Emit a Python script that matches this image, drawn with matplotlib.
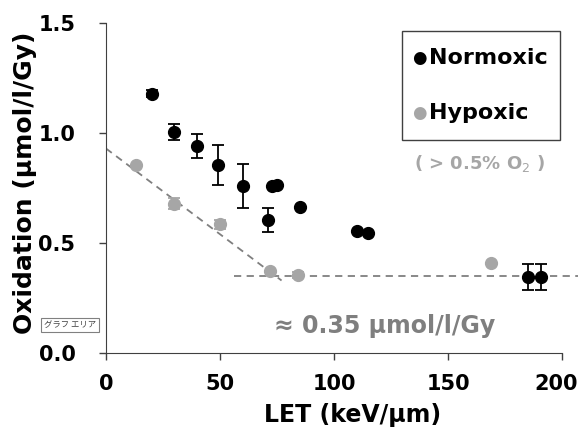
import matplotlib.pyplot as plt
import matplotlib.transforms as mtransforms

# Normoxic data (LET keV/um, oxidation umol/l/Gy, error)
norm_let = [20, 30, 40, 49, 60, 71, 73, 75, 85, 110, 115, 185, 191]
norm_ox = [1.18, 1.005, 0.94, 0.855, 0.76, 0.605, 0.76, 0.765, 0.665, 0.555, 0.545, 0.345, 0.345]
norm_err = [0.015, 0.035, 0.055, 0.09, 0.1, 0.055, 0, 0, 0, 0, 0, 0.06, 0.06]

# Hypoxic data
hyp_let = [13, 30, 50, 72, 84, 169]
hyp_ox = [0.855, 0.68, 0.585, 0.375, 0.355, 0.41]
hyp_err = [0, 0.025, 0.02, 0, 0.015, 0]

# guide lines
slope_x = [0, 77]
slope_y = [0.93, 0.33]
plateau_x = [56, 207]
plateau_y = [0.35, 0.35]

grey = "#a6a6a6"
line_grey = "#7f7f7f"

fig = plt.figure(figsize=(5.82, 4.28), dpi=100)
ax = fig.add_axes([106 / 582, 0.175, 456 / 582, 0.771])

ax.plot(slope_x, slope_y, "--", color=line_grey, lw=1.3, dashes=(4, 3), zorder=1)
ax.plot(plateau_x, plateau_y, "--", color=line_grey, lw=1.3, dashes=(4, 3), zorder=1, clip_on=False)

ax.errorbar(hyp_let, hyp_ox, yerr=hyp_err, fmt="o", color=grey, ms=8.5,
            ecolor=grey, elinewidth=1.3, capsize=4, capthick=1.3, zorder=2)
ax.errorbar(norm_let, norm_ox, yerr=norm_err, fmt="o", color="black", ms=8.5,
            ecolor="black", elinewidth=1.3, capsize=4, capthick=1.3, zorder=3)

ax.set_xlim(0, 200)
ax.set_ylim(0, 1.5)
ax.set_xticks([0, 50, 100, 150, 200])
ax.set_yticks([0, 0.5, 1.0, 1.5])
ax.set_yticklabels(["0.0", "0.5", "1.0", "1.5"])
ax.spines["top"].set_visible(False)
ax.spines["right"].set_visible(False)
ax.spines["left"].set_color("#404040")
ax.spines["bottom"].set_color("#404040")
ax.tick_params(direction="out", length=5, width=1, color="#404040", labelsize=15)
ax.tick_params(axis="x", pad=10)
ax.tick_params(axis="y", pad=17)
for lab in ax.get_xticklabels() + ax.get_yticklabels():
    lab.set_fontweight("bold")
# last x label sits a little left of its tick, as in the original
last = ax.xaxis.get_major_ticks()[-1].label1
last.set_transform(last.get_transform() + mtransforms.ScaledTranslation(-4 / 72, 0, fig.dpi_scale_trans))

ax.set_xlabel("LET (keV/μm)", fontsize=17, fontweight="bold")
ax.set_ylabel("Oxidation (μmol/l/Gy)", fontsize=18, fontweight="bold")
ax.xaxis.set_label_coords(0.54, -0.152)
ax.yaxis.set_label_coords(-0.151, 0.515)

# legend box drawn by hand
box = plt.Rectangle((402 / 582, 1 - 140 / 428), 158 / 582, 109 / 428,
                    transform=fig.transFigure, fill=False, ec="#404040", lw=1)
fig.patches.append(box)
fig.text(419 / 582, 1 - 58 / 428, "●", color="black", fontsize=12, va="center", ha="center")
fig.text(429 / 582, 1 - 58 / 428, "Normoxic", color="black", fontsize=16, fontweight="bold", va="center")
fig.text(419 / 582, 1 - 113 / 428, "●", color=grey, fontsize=12, va="center", ha="center")
fig.text(429 / 582, 1 - 113 / 428, "Hypoxic", color="black", fontsize=16, fontweight="bold", va="center")
fig.text(480 / 582, 1 - 163 / 428, "( > 0.5% O$_2$ )", color=grey, fontsize=13, fontweight="bold",
         va="center", ha="center")

ax.text(122, 0.125, "≈ 0.35 μmol/l/Gy", color=line_grey, fontsize=17, fontweight="bold",
        ha="center", va="center")

fig.text(70 / 582, 1 - 325 / 428, "グラフ エリア", fontsize=6, color="#404040",
         family=["Noto Sans CJK JP", "DejaVu Sans"], ha="center", va="center",
         bbox=dict(boxstyle="square,pad=0.3", fc="white", ec="#808080", lw=0.8))

fig.savefig("out.png", dpi=100)
